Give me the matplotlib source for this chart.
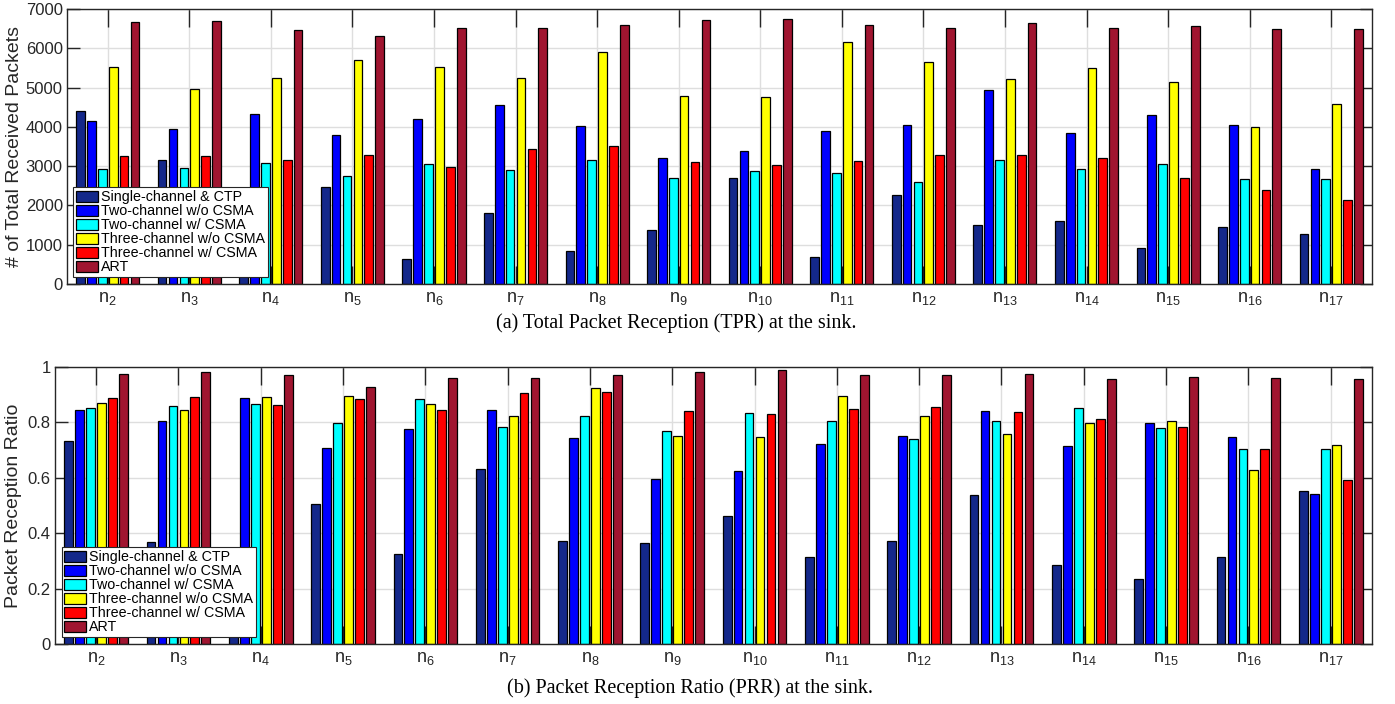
import numpy as np
import matplotlib
matplotlib.use("Agg")
import matplotlib.pyplot as plt

plt.rcParams['font.family'] = ['Liberation Sans', 'DejaVu Sans']

nodes = ["$\\mathregular{n_{%d}}$" % k for k in range(2, 18)]
series = ["Single-channel & CTP", "Two-channel w/o CSMA", "Two-channel w/ CSMA",
          "Three-channel w/o CSMA", "Three-channel w/ CSMA", "ART"]
colors = ["#14288a", "#0000ff", "#00ffff", "#ffff00", "#ff0000", "#a01530"]

# total received packets, one list per scheme (n2 .. n17)
tpr_single = [4400, 3160, 2000, 2470, 645, 1810, 830, 1385, 2710, 680, 2260, 1510, 1615, 915, 1450, 1285]
tpr_two_nocsma = [4140, 3940, 4340, 3805, 4190, 4560, 4010, 3220, 3375, 3890, 4060, 4935, 3855, 4290, 4035, 2915]
tpr_two_csma = [2930, 2965, 3070, 2750, 3060, 2890, 3150, 2710, 2880, 2820, 2585, 3150, 2940, 3065, 2665, 2675]
tpr_three_nocsma = [5530, 4960, 5250, 5690, 5515, 5240, 5895, 4775, 4750, 6150, 5640, 5215, 5490, 5130, 4000, 4580]
tpr_three_csma = [3270, 3270, 3160, 3295, 2990, 3425, 3515, 3100, 3035, 3120, 3290, 3295, 3220, 2710, 2385, 2150]
tpr_art = [6660, 6695, 6460, 6320, 6510, 6525, 6600, 6710, 6735, 6595, 6525, 6635, 6525, 6560, 6480, 6500]

# packet reception ratio
prr_single = [0.732, 0.367, 0.30, 0.507, 0.326, 0.633, 0.373, 0.366, 0.461, 0.314, 0.373, 0.538, 0.286, 0.233, 0.314, 0.554]
prr_two_nocsma = [0.846, 0.806, 0.888, 0.706, 0.776, 0.846, 0.742, 0.597, 0.626, 0.722, 0.752, 0.840, 0.715, 0.797, 0.747, 0.540]
prr_two_csma = [0.853, 0.858, 0.866, 0.797, 0.883, 0.783, 0.823, 0.769, 0.834, 0.806, 0.740, 0.806, 0.853, 0.781, 0.704, 0.705]
prr_three_nocsma = [0.870, 0.844, 0.893, 0.894, 0.865, 0.822, 0.925, 0.751, 0.746, 0.895, 0.822, 0.759, 0.799, 0.806, 0.629, 0.718]
prr_three_csma = [0.887, 0.890, 0.864, 0.886, 0.844, 0.905, 0.910, 0.842, 0.830, 0.848, 0.857, 0.836, 0.812, 0.783, 0.703, 0.593]
prr_art = [0.976, 0.981, 0.971, 0.927, 0.960, 0.959, 0.971, 0.982, 0.990, 0.970, 0.970, 0.974, 0.955, 0.963, 0.960, 0.955]

tpr = [tpr_single, tpr_two_nocsma, tpr_two_csma, tpr_three_nocsma, tpr_three_csma, tpr_art]
prr = [prr_single, prr_two_nocsma, prr_two_csma, prr_three_nocsma, prr_three_csma, prr_art]

axcol = "#262626"


def grouped(ax, data, ylim, yticks, ylabel, labelx):
    x = np.arange(1, len(nodes) + 1)
    step = 0.8 / len(data)
    for i, vals in enumerate(data):
        off = (i - (len(data) - 1) / 2) * step
        ax.bar(x + off, vals, width=step * 0.8, color=colors[i], edgecolor="black",
               linewidth=0.9, label=series[i], zorder=2)
    ax.set_xlim(0.5, len(nodes) + 0.5)
    ax.set_ylim(*ylim)
    ax.set_yticks(yticks)
    ax.set_xticks(x)
    ax.set_xticklabels(nodes)
    ax.grid(True, color="#dedede", linewidth=1.0, zorder=0)
    ax.set_axisbelow(True)
    ax.tick_params(axis="x", direction="in", length=13, width=1, top=True,
                   colors=axcol, labelsize=13, pad=4)
    ax.tick_params(axis="y", direction="in", length=9, width=1, right=True,
                   colors=axcol, labelsize=12, pad=3)
    for s in ax.spines.values():
        s.set_color(axcol)
        s.set_linewidth(1.0)
    ax.set_ylabel(ylabel, fontsize=14, color=axcol)
    ax.yaxis.set_label_coords(labelx, 0.5)
    leg = ax.legend(loc="lower left", bbox_to_anchor=(0.005, 0.025), fontsize=10.3,
                    handlelength=1.5, handleheight=0.86, handletextpad=0.2,
                    labelspacing=0.0, borderpad=0.2, borderaxespad=0,
                    frameon=True, fancybox=False, framealpha=1)
    leg.get_frame().set_edgecolor(axcol)
    leg.get_frame().set_linewidth(0.8)
    leg.set_zorder(5)


fig = plt.figure(figsize=(13.95, 7.04), dpi=100)
ax1 = fig.add_axes([0.048, 0.5966, 0.9355, 0.3906])
ax2 = fig.add_axes([0.0394, 0.0852, 0.944, 0.3935])

grouped(ax1, tpr, (0, 7000), range(0, 7001, 1000), "# of Total Received Packets", -0.034)
grouped(ax2, prr, (0, 1), [0, 0.2, 0.4, 0.6, 0.8, 1], "Packet Reception Ratio", -0.025)
ax2.set_yticklabels(["0", "0.2", "0.4", "0.6", "0.8", "1"])

fig.text(0.485, 0.541, "(a) Total Packet Reception (TPR) at the sink.", ha="center", va="center",
         fontsize=14.5, family=["Liberation Serif", "DejaVu Serif"])
fig.text(0.4946, 0.022, "(b) Packet Reception Ratio (PRR) at the sink.", ha="center", va="center",
         fontsize=14.5, family=["Liberation Serif", "DejaVu Serif"])

fig.savefig("out.png", dpi=100)
